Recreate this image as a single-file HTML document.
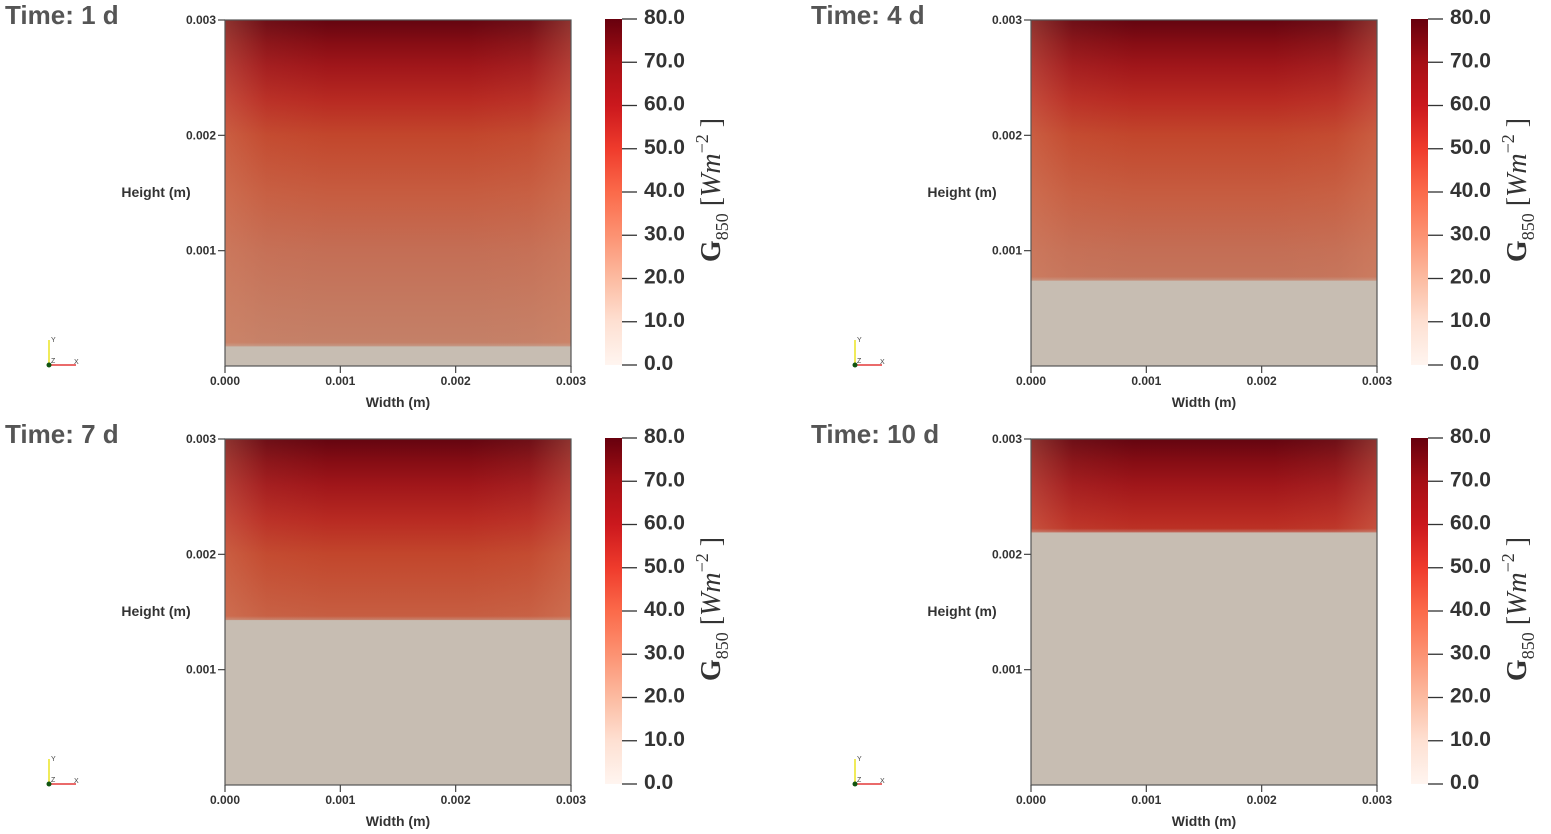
<!DOCTYPE html>
<html><head><meta charset="utf-8">
<style>
html,body{margin:0;padding:0;background:#fff;width:1551px;height:834px;overflow:hidden}
svg{display:block}
text{font-family:"Liberation Sans",sans-serif}
text.serif{font-family:"Liberation Serif",serif}
</style></head>
<body>
<svg id="chart" width="1551" height="834"></svg>
<script>
// ---- data ----
const timeLabels = ["Time: 1 d","Time: 4 d","Time: 7 d","Time: 10 d"];
const frontHeights = [0.00017, 0.00074, 0.00143, 0.00219]; // m, bottom of red region
const axisTicks = [0.000, 0.001, 0.002, 0.003];
const axisTickLabels = ["0.000","0.001","0.002","0.003"];
const cbTicks = [0,10,20,30,40,50,60,70,80];
const cbTickLabels = ["0.0","10.0","20.0","30.0","40.0","50.0","60.0","70.0","80.0"];
const profileHeights = [0.003, 0.0028, 0.0026, 0.0023, 0.002, 0.0015, 0.001, 0.0005, 0.0001];
const profileColors = ["#640510","#860d14","#a0161a","#b82a22","#c2462c","#c65c40","#c46e55","#c47a61","#c4826a"];
const cbColors = ["#fff5f0","#fee0d2","#fcbba1","#fc9272","#fb6a4a","#ef3b2c","#cb181d","#a50f15","#67000d"];

const NS = "http://www.w3.org/2000/svg";
const svg = document.getElementById("chart");
function mk(tag, attrs, parent){
  const e = document.createElementNS(NS, tag);
  for (const k in attrs) e.setAttribute(k, attrs[k]);
  (parent||svg).appendChild(e);
  return e;
}
const defs = mk("defs", {});
const offsets = [[0,0],[806,0],[0,419],[806,419]];
const PW = 346, PH = 346, PX0 = 225, PY0 = 20;

timeLabels.forEach((lbl, i) => {
  const [ox, oy] = offsets[i];
  const x0 = PX0 + ox, y0 = PY0 + oy;
  const xs = v => x0 + v / 0.003 * PW;
  const ys = v => y0 + PH - v / 0.003 * PH;
  const g = mk("g", {});
  
  

  const grad = mk("linearGradient", {id:"prof"+i, gradientUnits:"userSpaceOnUse", x1:0, x2:0, y1:ys(0.003), y2:ys(0)}, defs);
  profileHeights.forEach((h, k) => {
    mk("stop", {offset: (0.003 - h)/0.003, "stop-color": profileColors[k]}, grad);
  });
  const edge = mk("linearGradient", {id:"edge"+i, x1:0, x2:1, y1:0, y2:0}, defs);
  [[0,0.35],[0.12,0.08],[0.3,0],[0.7,0],[0.88,0.08],[1,0.35]].forEach(([o,a]) =>
    mk("stop", {offset:o, "stop-color":"#d98a6a", "stop-opacity":a}, edge));

  const bg = mk("rect", {x:x0, y:y0, width:PW, height:PH, fill:"#c7bdb2"}, g);
  
  
  const fy = ys(frontHeights[i]);
  const red = mk("rect", {x:x0, y:y0, width:PW, height:fy - y0, fill:"url(#prof"+i+")"}, g);
  
  
  mk("rect", {x:x0, y:y0, width:PW, height:fy - y0, fill:"url(#edge"+i+")"}, g);
  const blend = mk("linearGradient", {id:"bl"+i, x1:0, x2:0, y1:0, y2:1}, defs);
  mk("stop", {offset:0, "stop-color":"#c7bdb2", "stop-opacity":0}, blend);
  mk("stop", {offset:0.5, "stop-color":"#c7bdb2", "stop-opacity":0.5}, blend);
  mk("stop", {offset:1, "stop-color":"#c7bdb2", "stop-opacity":0}, blend);
  mk("rect", {x:x0, y:fy-4, width:PW, height:10, fill:"url(#bl"+i+")"}, g);
  mk("rect", {x:x0, y:y0, width:PW, height:PH, fill:"none", stroke:"#555", "stroke-width":1.2}, g);

  axisTicks.forEach((t, k) => {
    if (k === 0) return;
    mk("line", {x1:x0-7, x2:x0, y1:ys(t), y2:ys(t), stroke:"#444", "stroke-width":1.2}, g);
    const tl = mk("text", {x:x0-9, y:ys(t)+4, "text-anchor":"end", "font-size":12, "font-weight":"bold", fill:"#333"}, g);
    tl.textContent = axisTickLabels[k];
    
    
  });
  axisTicks.forEach((t, k) => {
    mk("line", {x1:xs(t), x2:xs(t), y1:y0+PH, y2:y0+PH+7, stroke:"#444", "stroke-width":1.2}, g);
    const tl = mk("text", {x:xs(t), y:y0+PH+19, "text-anchor":"middle", "font-size":12, "font-weight":"bold", fill:"#333"}, g);
    tl.textContent = axisTickLabels[k];
    
    
  });
  const xt = mk("text", {x:x0+PW/2, y:y0+PH+41, "text-anchor":"middle", "font-size":14, "font-weight":"bold", fill:"#333"}, g);
  xt.textContent = "Width (m)";
  
  
  const yt = mk("text", {x:156+ox, y:197+oy, "text-anchor":"middle", "font-size":14, "font-weight":"bold", fill:"#333"}, g);
  yt.textContent = "Height (m)";
  
  
  const tt = mk("text", {x:5+ox, y:24+oy, "font-size":26, "font-weight":"bold", fill:"#555"}, g);
  tt.textContent = lbl;
  
  

  const ax = mk("g", {}, g);
  
  
  mk("line", {x1:49+ox, y1:365+oy, x2:49+ox, y2:340+oy, stroke:"#e8e000", "stroke-width":1.3}, ax);
  mk("line", {x1:49+ox, y1:365+oy, x2:76+ox, y2:365+oy, stroke:"#dd1111", "stroke-width":1.3}, ax);
  mk("circle", {cx:49+ox, cy:365+oy, r:2.5, fill:"#115511"}, ax);
  const ty = mk("text", {x:51+ox, y:342+oy, "font-size":7, fill:"#444"}, ax); ty.textContent = "Y";
  const tx = mk("text", {x:74+ox, y:364+oy, "font-size":7, fill:"#444"}, ax); tx.textContent = "X";
  const tz = mk("text", {x:51+ox, y:363+oy, "font-size":7, fill:"#444"}, ax); tz.textContent = "Z";

  const cbx = 605 + ox, cby0 = 19 + oy, cbh = 346;
  const cg = mk("linearGradient", {id:"cb"+i, x1:0, x2:0, y1:1, y2:0}, defs);
  cbColors.forEach((c, k) => mk("stop", {offset:k/(cbColors.length-1), "stop-color":c}, cg));
  const cbar = mk("rect", {x:cbx, y:cby0, width:17, height:cbh, fill:"url(#cb"+i+")"}, g);
  
  
  const cys = v => cby0 + cbh - v/80*cbh;
  cbTicks.forEach((t, k) => {
    mk("line", {x1:cbx+17, x2:cbx+32, y1:cys(t), y2:cys(t), stroke:"#333", "stroke-width":1.3}, g);
    const cl = mk("text", {x:cbx+39, y:cys(t)+5, "font-size":21, "font-weight":"bold", fill:"#333"}, g);
    cl.textContent = cbTickLabels[k];
    
    
  });
  const ctitle = mk("text", {class:"serif", transform:`translate(${720+ox},${190+oy}) rotate(-90)`, "text-anchor":"middle", "font-size":28, fill:"#333"}, g);
  ctitle.innerHTML = '<tspan font-weight="bold">G</tspan><tspan font-size="18" dy="8">850</tspan><tspan dy="-8"> [</tspan><tspan font-style="italic">Wm</tspan><tspan font-size="18" dy="-12">−2</tspan><tspan dy="12"> ]</tspan>';
  
  
});
</script>
</body></html>
